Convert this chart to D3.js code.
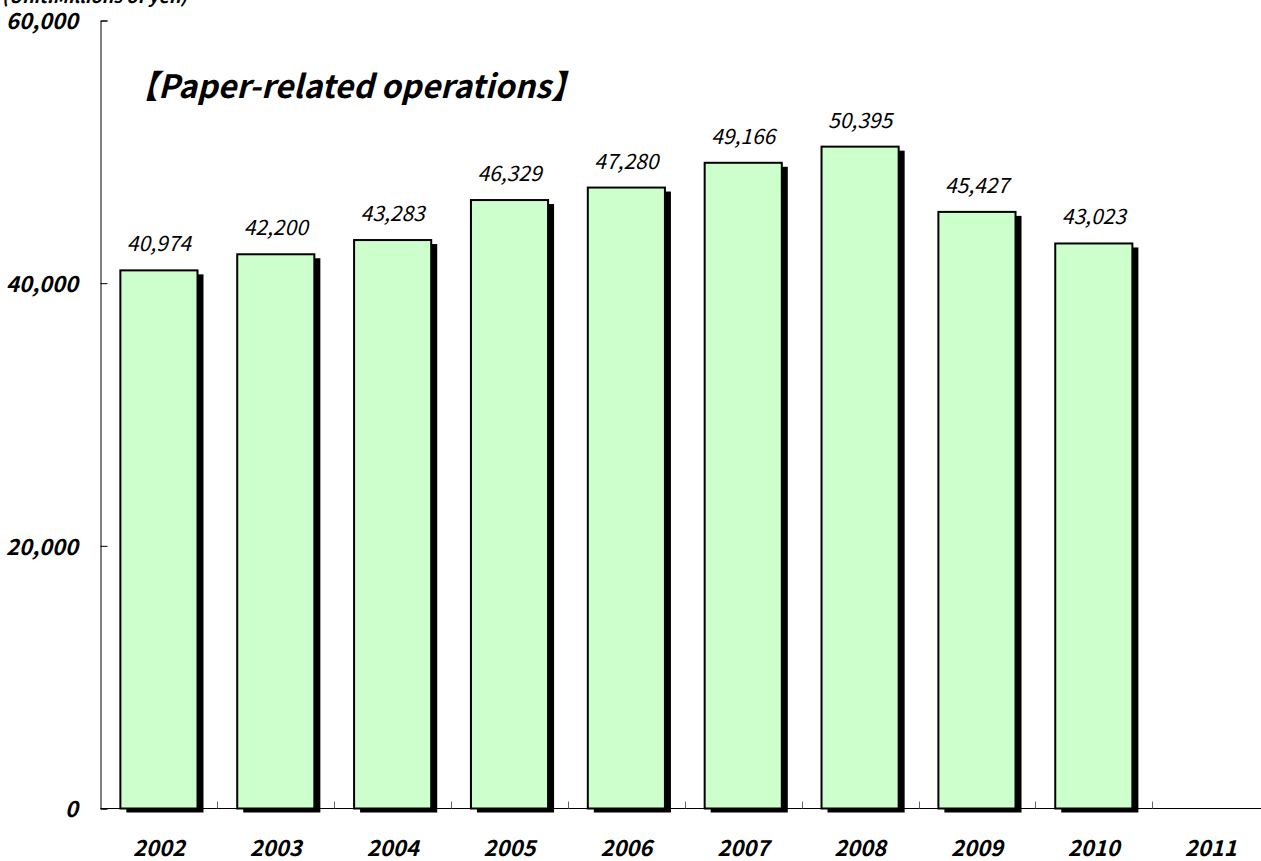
<!DOCTYPE html>
<html>
<head>
<meta charset="utf-8">
<script src="https://cdn.jsdelivr.net/npm/d3@7"></script>
<style>
  html, body { margin: 0; padding: 0; background: #fff; overflow: hidden; }
  svg { display: block; }
  text { font-family: "Noto Sans CJK JP", "DejaVu Sans", sans-serif; }
</style>
</head>
<body>
<svg id="chart" width="1261" height="861"></svg>
<script>
// Sales of paper-related operations by fiscal year (millions of yen)
const years = ["2002", "2003", "2004", "2005", "2006", "2007", "2008", "2009", "2010", "2011"];
const sales = [40974, 42200, 43283, 46329, 47280, 49166, 50395, 45427, 43023, null];
const yTicks = [0, 20000, 40000, 60000];
const chartTitle = "【Paper-related operations】";
const unitLabel = "(Unit:Millions of yen)";

const svg = d3.select("#chart");
const margin = { left: 100.5, top: 20.5, bottom: 808.5 };
const bandStep = 116.86;

const x = d3.scaleBand()
  .domain(years)
  .range([margin.left, margin.left + bandStep * years.length])
  .paddingInner(0.34)
  .paddingOuter(0.17);

const y = d3.scaleLinear()
  .domain([0, 60000])
  .range([margin.bottom, margin.top]);

const fmt = d3.format(",");

// Bars: drop shadow first, then the green bar on top
const data = years.map((yr, i) => ({ year: yr, value: sales[i] })).filter(d => d.value != null);

svg.append("g").selectAll("rect")
  .data(data)
  .join("rect")
  .attr("x", d => x(d.year) + 6)
  .attr("y", d => y(d.value) + 4)
  .attr("width", x.bandwidth())
  .attr("height", d => y(0) - y(d.value))
  .attr("fill", "#000");

svg.append("g").selectAll("rect")
  .data(data)
  .join("rect")
  .attr("x", d => x(d.year))
  .attr("y", d => y(d.value))
  .attr("width", x.bandwidth())
  .attr("height", d => y(0) - y(d.value))
  .attr("fill", "#ccffcc")
  .attr("stroke", "#000")
  .attr("stroke-width", 2);

// Value labels above each bar
svg.append("g").selectAll("text")
  .data(data)
  .join("text")
  .attr("x", d => x(d.year) + x.bandwidth() / 2)
  .attr("y", d => y(d.value) - 19)
  .attr("text-anchor", "middle")
  .attr("font-size", 21)
  .attr("font-style", "italic")
  .attr("fill", "#000")
  .text(d => fmt(d.value));

// Y axis: ticks point inward, labels placed on the far left
const yAxis = d3.axisRight(y)
  .tickValues(yTicks)
  .tickSize(7)
  .tickFormat("");
const yg = svg.append("g")
  .attr("transform", `translate(${margin.left},0)`)
  .call(yAxis);
yg.select(".domain").attr("stroke", "#000").attr("stroke-width", 1);
yg.selectAll(".tick line").attr("stroke", "#000");

svg.append("g").selectAll("text")
  .data(yTicks)
  .join("text")
  .attr("x", 78)
  .attr("y", d => y(d) + 1)
  .attr("dy", "0.35em")
  .attr("text-anchor", "end")
  .attr("font-size", 22)
  .attr("font-weight", "bold")
  .attr("font-style", "italic")
  .text(d => fmt(d));

// X axis: baseline with inward ticks at category boundaries
const boundaries = years.slice(1).map(yr => x(yr) - x.step() * x.paddingInner() / 2);
svg.append("line")
  .attr("x1", margin.left)
  .attr("x2", 1261)
  .attr("y1", y(0))
  .attr("y2", y(0))
  .attr("stroke", "#000")
  .attr("stroke-width", 1);
svg.append("g").selectAll("line")
  .data(boundaries)
  .join("line")
  .attr("x1", d => Math.round(d) + 0.5)
  .attr("x2", d => Math.round(d) + 0.5)
  .attr("y1", y(0))
  .attr("y2", y(0) - 7)
  .attr("stroke", "#666");

svg.append("g").selectAll("text")
  .data(years)
  .join("text")
  .attr("x", d => x(d) + x.bandwidth() / 2)
  .attr("y", 848)
  .attr("dy", "0.35em")
  .attr("text-anchor", "middle")
  .attr("font-size", 22)
  .attr("font-weight", "bold")
  .attr("font-style", "italic")
  .text(d => d);

// Title and unit note
svg.append("text")
  .attr("x", 126)
  .attr("y", 98)
  .attr("font-size", 32)
  .attr("font-weight", "bold")
  .attr("font-style", "italic")
  .text(chartTitle);

svg.append("text")
  .attr("x", 2)
  .attr("y", 3)
  .attr("font-size", 18)
  .attr("font-weight", "bold")
  .attr("font-style", "italic")
  .text(unitLabel);
</script>
</body>
</html>
